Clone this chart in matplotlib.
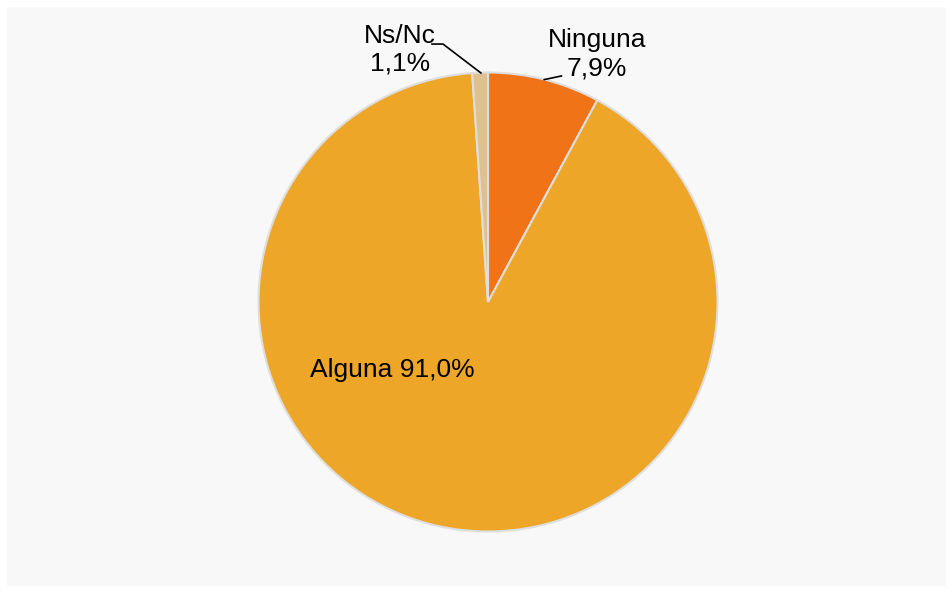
import matplotlib
matplotlib.use("Agg")
import matplotlib.pyplot as plt

categories = ["Ninguna", "Alguna", "Ns/Nc"]
values = [7.9, 91.0, 1.1]
colors = ["#f07317", "#eea628", "#dfc08f"]

plt.rcParams['font.family'] = ['Liberation Sans', 'DejaVu Sans']

W, H = 953, 593
fig = plt.figure(figsize=(W / 100, H / 100), dpi=100, facecolor="white")
bg = fig.add_axes([7 / W, 7 / H, 939 / W, 579 / H], zorder=-10)
bg.set_facecolor("#f8f8f8")
bg.set_xticks([])
bg.set_yticks([])
for s in bg.spines.values():
    s.set_visible(False)

cx, cy, r = 488, 302, 229.5
ax = fig.add_axes([(cx - r) / W, (H - cy - r) / H, 2 * r / W, 2 * r / H], zorder=1)
ax.set_facecolor("none")
ax.pie(values, colors=colors, startangle=90, counterclock=False,
       wedgeprops=dict(edgecolor="#dedede", linewidth=1.5))
ax.set_xlim(-1, 1)
ax.set_ylim(-1, 1)
ax.set_aspect("equal")
ax.axis("off")

def fmt(v):
    return f"{v:.1f}".replace(".", ",") + "%"

fs = 19
ax.text(-0.418, -0.296, f"{categories[1]} {fmt(values[1])}", ha="center", va="center",
        fontsize=fs, color="black")
ax.text(0.475, 1.078, f"{categories[0]}\n{fmt(values[0])}", ha="center", va="center",
        fontsize=fs, color="black", linespacing=1.25, clip_on=False)
ax.plot([0.245, 0.32], [0.969, 0.985], color="black", lw=1.2, clip_on=False)
ax.text(-0.383, 1.098, f"{categories[2]}\n{fmt(values[2])}", ha="center", va="center",
        fontsize=fs, color="black", linespacing=1.17, clip_on=False)
ax.plot([-0.244, -0.196, -0.031], [1.124, 1.124, 0.998], color="black", lw=1.2, clip_on=False)

fig.savefig("out.png", dpi=100, facecolor="white")
